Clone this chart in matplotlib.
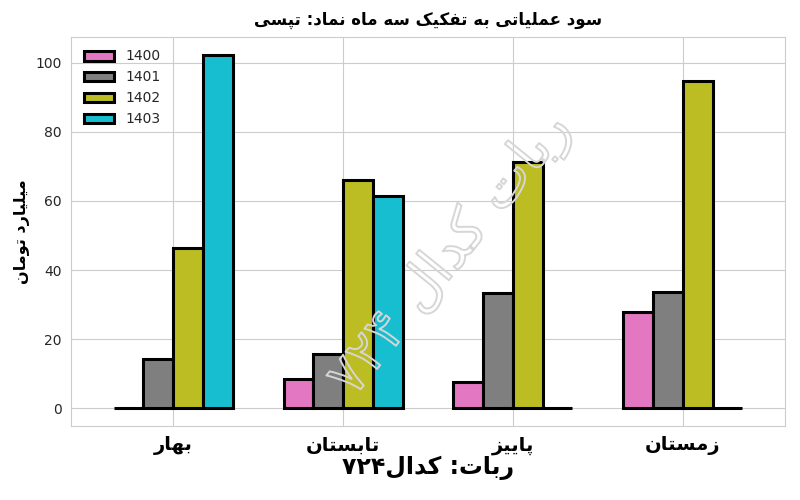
import numpy as np
import matplotlib
matplotlib.use('Agg')
import matplotlib.pyplot as plt
import matplotlib.patheffects as pe
import seaborn as sns

# Data
seasons = ['بهار', 'تابستان', 'پاییز', 'زمستان']
years = ['1400', '1401', '1402', '1403']
v1400 = [0.0, 8.4, 7.6, 27.9]
v1401 = [14.2, 15.7, 33.4, 33.7]
v1402 = [46.5, 66.0, 71.2, 94.8]
v1403 = [102.3, 61.3, 0.0, 0.0]
colors = ['#e377c2', '#7f7f7f', '#bcbd22', '#17becf']

title_txt = 'سود عملیاتی به تفکیک سه ماه نماد: تپسی'
ylabel_txt = 'میلیارد تومان'
footer_txt = 'ربات: کدال۷۲۴'
watermark_txt = 'ربات کدال ۷۲۴'

# Minimal Persian shaping (matplotlib has no RTL / joining support)
# forms: isolated, final, initial, medial
FORMS = {
    'ا': ('\uFE8D', '\uFE8E', None, None),
    'ب': ('\uFE8F', '\uFE90', '\uFE91', '\uFE92'),
    'پ': ('\uFB56', '\uFB57', '\uFB58', '\uFB59'),
    'ت': ('\uFE95', '\uFE96', '\uFE97', '\uFE98'),
    'د': ('\uFEA9', '\uFEAA', None, None),
    'ر': ('\uFEAD', '\uFEAE', None, None),
    'ز': ('\uFEAF', '\uFEB0', None, None),
    'س': ('\uFEB1', '\uFEB2', '\uFEB3', '\uFEB4'),
    'ع': ('\uFEC9', '\uFECA', '\uFECB', '\uFECC'),
    'ف': ('\uFED1', '\uFED2', '\uFED3', '\uFED4'),
    'ک': ('\uFB8E', '\uFB8F', '\uFB90', '\uFB91'),
    'ل': ('\uFEDD', '\uFEDE', '\uFEDF', '\uFEE0'),
    'م': ('\uFEE1', '\uFEE2', '\uFEE3', '\uFEE4'),
    'ن': ('\uFEE5', '\uFEE6', '\uFEE7', '\uFEE8'),
    'ه': ('\uFEE9', '\uFEEA', '\uFEEB', '\uFEEC'),
    'و': ('\uFEED', '\uFEEE', None, None),
    'ی': ('\uFBFC', '\uFBFD', '\uFBFE', '\uFBFF'),
}
DIGITS = set('۰۱۲۳۴۵۶۷۸۹0123456789')


def fa(text):
    out = []
    for i, ch in enumerate(text):
        if ch not in FORMS:
            out.append(ch)
            continue
        prev = text[i - 1] if i > 0 else ''
        nxt = text[i + 1] if i + 1 < len(text) else ''
        pj = prev in FORMS and FORMS[prev][2] is not None
        nj = nxt in FORMS
        iso, fin, ini, med = FORMS[ch]
        if ini is None:
            out.append(fin if pj else iso)
        elif pj and nj:
            out.append(med)
        elif pj:
            out.append(fin)
        elif nj:
            out.append(ini)
        else:
            out.append(iso)
    # reverse for display, keeping digit runs in order
    runs, cur = [], ''
    for ch in out:
        if cur and ((ch in DIGITS) != (cur[-1] in DIGITS)):
            runs.append(cur)
            cur = ''
        cur += ch
    runs.append(cur)
    res = []
    for r in reversed(runs):
        res.append(r if r[0] in DIGITS else r[::-1])
    return ''.join(res)


sns.set_style('whitegrid')
plt.rcParams['font.family'] = ['DejaVu Sans']

fig = plt.figure(figsize=(8, 5), dpi=100)
ax = fig.add_axes([0.089, 0.148, 0.892, 0.778])

x = np.arange(len(seasons))
w = 0.175
series = [v1400, v1401, v1402, v1403]
for k, (vals, lab, col) in enumerate(zip(series, years, colors)):
    ax.bar(x + (k - 1.5) * w, vals, width=w, color=col, edgecolor='black',
           linewidth=2.2, label=lab, zorder=3)

ymax = max(max(s) for s in series)
ax.set_ylim(-0.05 * ymax, 1.05 * ymax)
ax.set_xlim(-0.6, 3.6)
ax.set_xticks(x)
ax.set_xticklabels([fa(s) for s in seasons], fontsize=14, fontweight='bold',
                   color='black')
ax.tick_params(axis='y', labelsize=10)
ax.set_ylabel(fa(ylabel_txt), fontsize=11.5, fontweight='bold', color='black')
ax.yaxis.set_label_coords(-0.058, 0.5)
ax.set_title(fa(title_txt), fontsize=12, fontweight='bold', color='black',
             pad=9)
ax.legend(loc='upper left', fontsize=10, handlelength=2.2, frameon=False)

# footer centred under the axes
ax.text(0.5, -0.108, fa(footer_txt), transform=ax.transAxes, ha='center',
        va='center', fontsize=17, fontweight='bold', color='black')

# hollow watermark
ax.text(0.532, 0.44, fa(watermark_txt), transform=ax.transAxes, ha='center',
        va='center', rotation=51, fontsize=40, color=(1, 1, 1, 0),
        zorder=5,
        path_effects=[pe.Stroke(linewidth=1.4, foreground='#d6d6d6')])

fig.savefig('out.png', dpi=100)
